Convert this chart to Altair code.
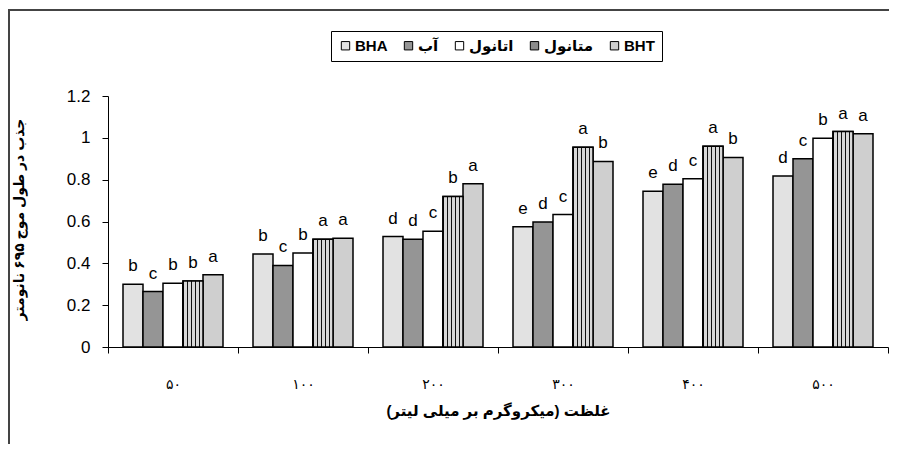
import altair as alt
import pandas as pd

concs = ["۵۰", "۱۰۰", "۲۰۰", "۳۰۰", "۴۰۰", "۵۰۰"]
series = ["BHA", "آب", "اتانول", "متانول", "BHT"]
series_fills = ["#e2e2e2", "#959595", "#ffffff", "#8c8c8c", "#cfcfcf"]

bha = [0.300, 0.445, 0.528, 0.575, 0.745, 0.818]
water = [0.265, 0.390, 0.515, 0.598, 0.778, 0.900]
ethanol = [0.305, 0.450, 0.553, 0.633, 0.804, 0.998]
methanol = [0.315, 0.515, 0.720, 0.955, 0.960, 1.030]
bht = [0.345, 0.520, 0.780, 0.887, 0.906, 1.020]

letters_bha = ["b", "b", "d", "e", "e", "d"]
letters_water = ["c", "c", "d", "d", "d", "c"]
letters_ethanol = ["b", "b", "c", "c", "c", "b"]
letters_methanol = ["b", "a", "b", "a", "a", "a"]
letters_bht = ["a", "a", "a", "b", "b", "a"]

y_ticks = [0, 0.2, 0.4, 0.6, 0.8, 1.0, 1.2]

values = [bha, water, ethanol, methanol, bht]
letters = [letters_bha, letters_water, letters_ethanol, letters_methanol, letters_bht]

rows = []
for s, vals, lets in zip(series, values, letters):
    for c, v, l in zip(concs, vals, lets):
        rows.append({"conc": c, "series": s, "value": v, "letter": l})
df = pd.DataFrame(rows)

FONT = "Liberation Sans, Arial, DejaVu Sans"

x_enc = alt.X("conc:N", sort=concs,
              scale=alt.Scale(domain=concs, paddingInner=0, paddingOuter=0),
              axis=alt.Axis(title="غلظت (میکروگرم بر میلی لیتر)", labelAngle=0,
                            tickBand="extent", labelFontSize=14, labelPadding=24,
                            tickSize=6, titleFontSize=15, titleFontWeight="bold",
                            titleY=63, titleBaseline="middle"))
xo_enc = alt.XOffset("series:N", sort=series,
                     scale=alt.Scale(domain=series, paddingOuter=0.75, paddingInner=0))
y_enc = alt.Y("value:Q",
              scale=alt.Scale(domain=[0, 1.2], nice=False, zero=True),
              axis=alt.Axis(title="جذب در طول موج ۶۹۵ نانومتر", values=y_ticks,
                            format="~g", grid=False, labelFontSize=17,
                            labelPadding=12, tickSize=6, titleFontSize=14,
                            titleFontWeight="bold", titleX=-89, titleY=123,
                            titleBaseline="middle", titleAngle=270))

bars = alt.Chart(df).mark_bar(stroke="black", strokeWidth=1.5).encode(
    x=x_enc,
    xOffset=xo_enc,
    y=y_enc,
    fill=alt.Fill("series:N", sort=series,
                  scale=alt.Scale(domain=series, range=series_fills),
                  legend=alt.Legend(title=None, orient="none", direction="horizontal",
                                    legendX=223, legendY=-65, strokeColor="black",
                                    padding=7, symbolType="square", symbolSize=70,
                                    symbolStrokeColor="black", symbolStrokeWidth=1,
                                    labelFontSize=15, labelFontWeight="bold",
                                    columnPadding=13, labelOffset=2)),
)

stripe_stops = []
n = 5
for i in range(n):
    a = i / n
    b = a + 0.35 / n
    e = (i + 1) / n
    stripe_stops += [
        alt.GradientStop(color="#111111", offset=a),
        alt.GradientStop(color="#111111", offset=b),
        alt.GradientStop(color="#d8d8d8", offset=b),
        alt.GradientStop(color="#d8d8d8", offset=e),
    ]
stripe = alt.LinearGradient(gradient="linear", stops=stripe_stops, x1=0, x2=1, y1=0, y2=0)

meth = alt.Chart(df).transform_filter(alt.datum.series == "متانول").mark_bar(
    fill=stripe, stroke="black", strokeWidth=1.5
).encode(x=x_enc, xOffset=xo_enc, y=y_enc)

text = alt.Chart(df).mark_text(baseline="bottom", dy=-9, fontSize=17, font=FONT,
                               color="black").encode(
    x=x_enc, xOffset=xo_enc, y=y_enc, text="letter:N")

frame_data = pd.DataFrame({"k": [0]})
top_line = alt.Chart(frame_data).mark_rule(color="#444444", strokeWidth=2).encode(
    x=alt.value(-100), x2=alt.value(781), y=alt.value(-86))
left_line = alt.Chart(frame_data).mark_rule(color="#444444", strokeWidth=2).encode(
    x=alt.value(-99), y=alt.value(-87), y2=alt.value(348))

chart = alt.layer(bars, meth, text, top_line, left_line).properties(
    width=780, height=251,
    autosize=alt.AutoSizeParams(type="none"),
    padding={"left": 100, "top": 88, "right": 1, "bottom": 97},
).configure_axis(
    domainColor="black", tickColor="black", labelColor="black", titleColor="black",
    labelFont=FONT, titleFont=FONT,
).configure_legend(
    labelFont=FONT, labelColor="black",
).configure_view(stroke=None)

chart.save("out.html", embed_options={"renderer": "svg", "actions": False})
